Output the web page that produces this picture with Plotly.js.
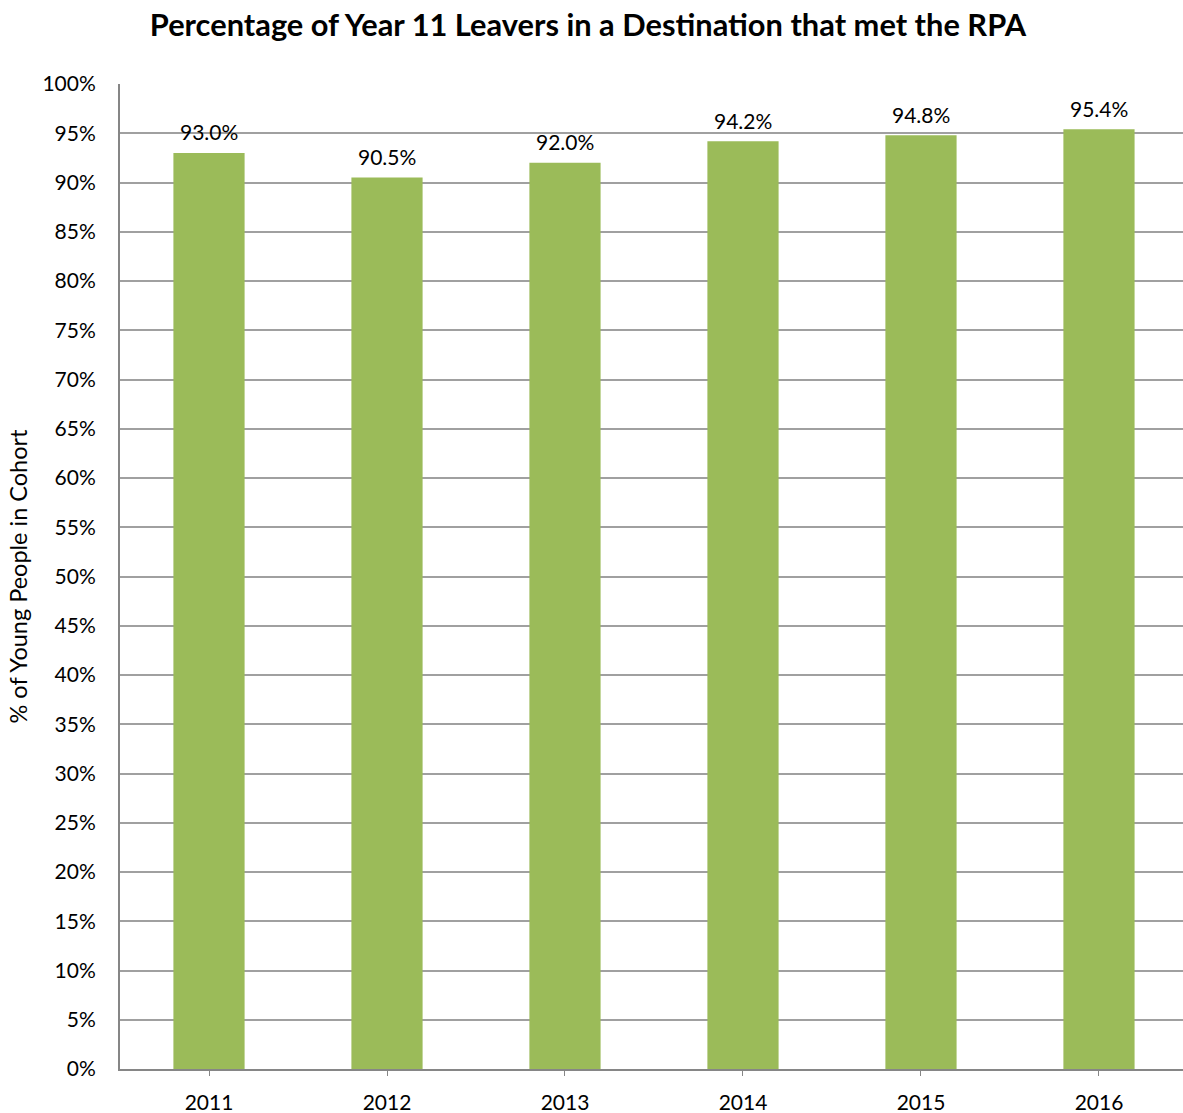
<!DOCTYPE html>
<html>
<head>
<meta charset="utf-8">
<script src="https://cdn.plot.ly/plotly-3.0.1.min.js"></script>
<style>html,body{margin:0;padding:0;background:#fff;}#chart{width:1183px;height:1113px;}</style>
</head>
<body>
<div id="chart"></div>
<script>
const years = ['2011', '2012', '2013', '2014', '2015', '2016'];
const pctValues = [93.0, 90.5, 92.0, 94.2, 94.8, 95.4];
const valueLabels = ['93.0%', '90.5%', '92.0%', '94.2%', '94.8%', '95.4%'];
const yTickVals = [0,5,10,15,20,25,30,35,40,45,50,55,60,65,70,75,80,85,90,95,100];
const yTickText = yTickVals.map(v => v + '%');

const FONT = 'Lato, "Open Sans", sans-serif';

const trace = {
  type: 'bar',
  x: years,
  y: pctValues,
  marker: {color: '#9BBB59'},
  width: 0.4,
  hoverinfo: 'x+y'
};

// category index used as x so the numeric-looking names are not read as positions
const annotations = years.map((yr, i) => ({
  x: i, y: pctValues[i], text: valueLabels[i],
  xref: 'x', yref: 'y', showarrow: false,
  yanchor: 'middle', yshift: 21,
  font: {family: FONT, size: 21, color: '#000'}
}));

const layout = {
  width: 1183, height: 1113,
  margin: {l: 120, r: 0, t: 84, b: 44},
  paper_bgcolor: '#fff', plot_bgcolor: '#fff',
  showlegend: false,
  title: {
    text: '<b>Percentage of Year 11 Leavers in a Destination that met the RPA</b>',
    font: {family: FONT, size: 30.8, color: '#000'},
    x: 0.497, xanchor: 'center', y: 0.977, yanchor: 'middle'
  },
  xaxis: {
    type: 'category',
    range: [-0.5, 5.472],
    showgrid: false,
    showline: true, linecolor: '#868686', linewidth: 2,
    ticks: 'outside', ticklen: 5, tickcolor: '#868686', tickwidth: 1,
    tickfont: {family: FONT, size: 21, color: '#000'},
    ticklabelstandoff: 9,
    automargin: false,
    fixedrange: true
  },
  yaxis: {
    range: [0, 100],
    tickvals: yTickVals, ticktext: yTickText,
    showgrid: true, gridcolor: '#A0A0A0', gridwidth: 2,
    showline: true, linecolor: '#868686', linewidth: 2,
    zeroline: false,
    ticks: '',
    tickfont: {family: FONT, size: 21, color: '#000'},
    ticklabelstandoff: 18,
    automargin: false,
    title: {text: '% of Young People in Cohort', font: {family: FONT, size: 23.5, color: '#000'}, standoff: 8},
    fixedrange: true
  },
  annotations: annotations
};

Plotly.newPlot('chart', [trace], layout, {displayModeBar: false, staticPlot: true});
</script>
</body>
</html>
